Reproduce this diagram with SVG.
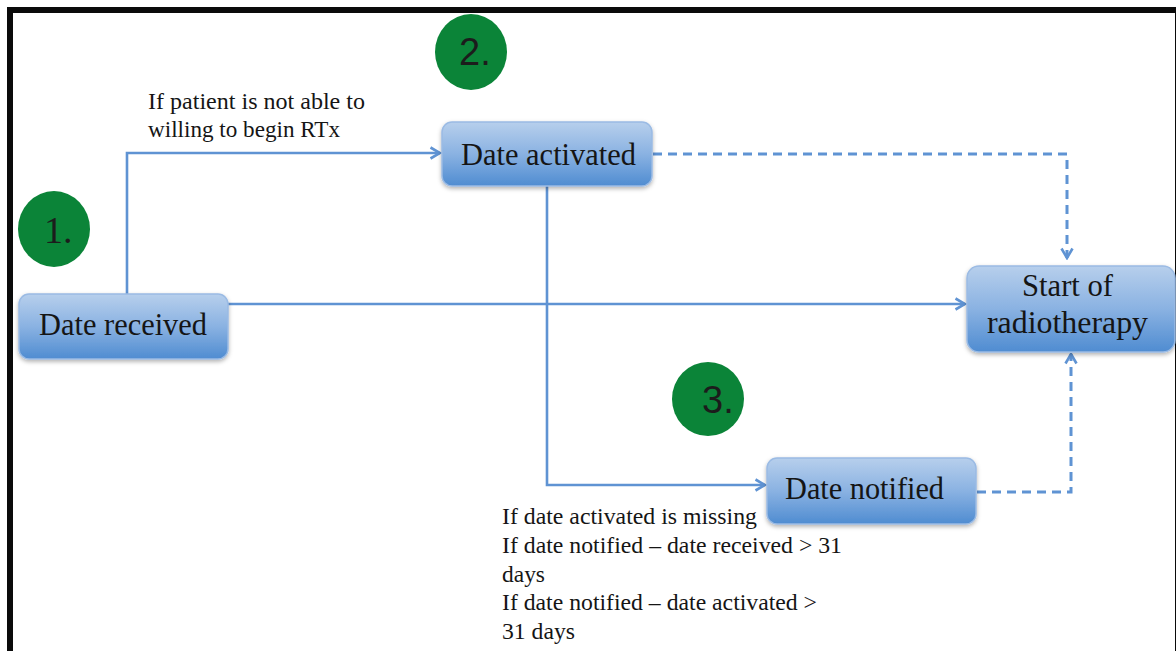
<svg xmlns="http://www.w3.org/2000/svg" width="1176" height="651" viewBox="0 0 1176 651">
  <defs>
    <linearGradient id="boxFill" x1="0" y1="0" x2="0" y2="1">
      <stop offset="0" stop-color="#b7cfec"/>
      <stop offset="0.5" stop-color="#8ab2e2"/>
      <stop offset="1" stop-color="#4f8cd1"/>
    </linearGradient>
    <filter id="shadow" x="-10%" y="-10%" width="120%" height="140%">
      <feDropShadow dx="0" dy="2" stdDeviation="2" flood-color="#000" flood-opacity="0.3"/>
    </filter>
    <marker id="arrow" viewBox="0 0 14 14" refX="12.5" refY="7" markerWidth="14" markerHeight="14" markerUnits="userSpaceOnUse" orient="auto">
      <path d="M3,1.5 L12.5,7 L3,12.5" fill="none" stroke="#5f93d3" stroke-width="2.6"/>
    </marker>
  </defs>
  <style>
    .frame { fill: none; stroke: #0a0a0a; stroke-width: 6; }
    .box { fill: url(#boxFill); stroke: #9bbbe4; stroke-width: 1.5; filter: url(#shadow); }
    .label { font-family: "Liberation Serif", "Times New Roman", serif; fill: #151515; }
    .node-text { font-size: 32px; }
    .note { font-size: 23px; }
    .badge { fill: #0b8438; }
    .badge-num { font-size: 38px; fill: #1c1c1c; }
    .sans { font-family: "Liberation Sans", Arial, sans-serif; }
    .link { fill: none; stroke: #5f93d3; stroke-width: 2.6; marker-end: url(#arrow); }
    .link-dash { stroke-width: 3; stroke-dasharray: 9 6; }
  </style>

  <rect width="1176" height="651" fill="#ffffff"/>
  <rect class="frame" x="10" y="10" width="1168" height="660"/>

  <!-- connectors -->
  <g id="connectors">
    <path class="link" d="M127,294 V153 H440"/>
    <path class="link" d="M228,304 H965"/>
    <path class="link" d="M547,186 V485 H765"/>
    <path class="link link-dash" d="M653,154 H1067 V258"/>
    <path class="link link-dash" d="M977,492 H1071 V354"/>
  </g>

  <!-- step badges -->
  <g id="badge-1">
    <ellipse class="badge" cx="54" cy="229" rx="36" ry="38"/>
    <text class="label badge-num" x="44" y="243">1.</text>
  </g>
  <g id="badge-2">
    <ellipse class="badge" cx="471" cy="52" rx="36" ry="38"/>
    <text class="label badge-num sans" x="459" y="65">2.</text>
  </g>
  <g id="badge-3">
    <ellipse class="badge" cx="708" cy="399" rx="36" ry="37"/>
    <text class="label badge-num sans" x="702" y="413">3.</text>
  </g>

  <!-- nodes -->
  <g id="node-date-received">
    <rect class="box" x="19" y="294" width="209" height="65" rx="10"/>
    <text class="label node-text" x="39" y="335" textLength="168" lengthAdjust="spacingAndGlyphs">Date received</text>
  </g>
  <g id="node-date-activated">
    <rect class="box" x="442" y="122" width="210" height="64" rx="10"/>
    <text class="label node-text" x="461" y="165" textLength="175" lengthAdjust="spacingAndGlyphs">Date activated</text>
  </g>
  <g id="node-start-rt">
    <rect class="box" x="967" y="266" width="208" height="86" rx="12"/>
    <text class="label node-text" x="1022" y="296" textLength="91" lengthAdjust="spacingAndGlyphs">Start of</text>
    <text class="label node-text" x="987" y="333" textLength="161" lengthAdjust="spacingAndGlyphs">radiotherapy</text>
  </g>
  <g id="node-date-notified">
    <rect class="box" x="767" y="458" width="209" height="66" rx="10"/>
    <text class="label node-text" x="785" y="499" textLength="159" lengthAdjust="spacingAndGlyphs">Date notified</text>
  </g>

  <!-- condition notes -->
  <g id="note-unable">
    <text class="label note" x="148" y="109" textLength="217" lengthAdjust="spacingAndGlyphs">If patient is not able to</text>
    <text class="label note" x="148" y="137" textLength="192" lengthAdjust="spacingAndGlyphs">willing to begin RTx</text>
  </g>
  <g id="note-notified">
    <text class="label note" x="502" y="524" textLength="255" lengthAdjust="spacingAndGlyphs">If date activated is missing</text>
    <text class="label note" x="502" y="553" textLength="340" lengthAdjust="spacingAndGlyphs">If date notified – date received &gt; 31</text>
    <text class="label note" x="502" y="582" textLength="43" lengthAdjust="spacingAndGlyphs">days</text>
    <text class="label note" x="502" y="610" textLength="315" lengthAdjust="spacingAndGlyphs">If date notified – date activated &gt;</text>
    <text class="label note" x="502" y="639" textLength="73" lengthAdjust="spacingAndGlyphs">31 days</text>
  </g>
</svg>
